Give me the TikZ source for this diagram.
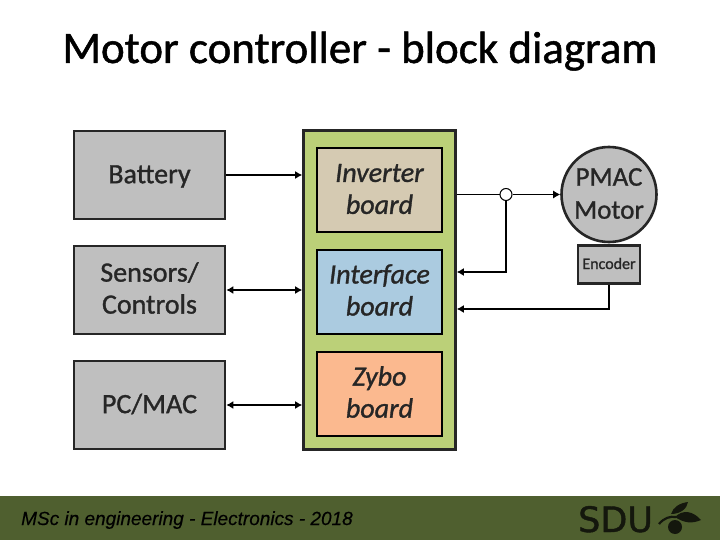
\documentclass[tikz,border=0pt]{standalone}
\usepackage{fontspec}
\setmainfont{Carlito}
\newfontfamily\heavyfont[FakeBold=1.1]{Carlito}
\newfontfamily\footfont[FakeBold=0.3]{Liberation Sans}
\newfontfamily\logofont[FakeBold=1.2]{DejaVu Sans}
\usetikzlibrary{arrows.meta,calc}
\definecolor{blockgray}{HTML}{BFBFBF}
\definecolor{edgegray}{HTML}{262626}
\definecolor{boardgreen}{HTML}{BBD078}
\definecolor{boardtan}{HTML}{D5CAB2}
\definecolor{boardblue}{HTML}{ABCBE0}
\definecolor{boardorange}{HTML}{FBB98F}
\definecolor{footgreen}{HTML}{4F5F2F}
\definecolor{logodark}{HTML}{14170D}
% move a line of text up or down without changing its box
\newcommand{\nudge}[2]{\raisebox{#1}[\height][\depth]{#2}}
\tikzset{
  block/.style={draw=edgegray,line width=2.6pt,fill=blockgray,minimum width=151pt,minimum height=88pt,inner sep=0pt,align=center,font=\heavyfont\fontsize{28}{32}\selectfont,text=black!85},
  board/.style={block,minimum width=125pt,minimum height=84pt,draw=black,font=\heavyfont\fontsize{28}{32}\selectfont\itshape},
  link/.style={draw=black,line width=1.5pt},
  arr/.style={link,-{Latex[length=7pt,width=8pt]}},
  dblarr/.style={link,{Latex[length=7pt,width=8pt]}-{Latex[length=7pt,width=8pt]}}
}
\begin{document}
\begin{tikzpicture}[x=1pt,y=-1pt]
  \useasboundingbox (0,0) rectangle (720,540);
  \fill[white] (0,0) rectangle (720,540);

  \node[anchor=base,inner sep=0pt,font=\heavyfont\fontsize{45}{45}\selectfont,text=black] (title) at (360,63) {Motor controller - block diagram};

  \node[block] (battery) at (149.5,175) {\nudge{-1.5pt}{Battery}};
  \node[block] (sensors) at (149.5,290) {\nudge{2pt}{Sensors/}\\\nudge{2pt}{Controls}};
  \node[block] (pcmac) at (149.5,405) {\nudge{1pt}{PC/MAC}};

  \node[draw=edgegray,line width=2.6pt,fill=boardgreen,minimum width=152pt,minimum height=319pt,inner sep=0pt] (green) at (379.5,290) {};
  \node[board,fill=boardtan] (inverter) at (379.5,190) {\nudge{1pt}{Inverter}\\\nudge{1pt}{board}};
  \node[board,fill=boardblue] (interface) at (379.5,292) {\nudge{2pt}{Interface}\\\nudge{2pt}{board}};
  \node[board,fill=boardorange] (zybo) at (379.5,394) {\nudge{2pt}{Zybo}\\\nudge{2pt}{board}};

  \node[circle,draw=edgegray,line width=2.6pt,fill=blockgray,minimum size=95pt,inner sep=0pt,align=center,font=\heavyfont\fontsize{27}{33}\selectfont,text=black!85] (motor) at (609,194.5) {\nudge{1pt}{PMAC}\\\nudge{1pt}{Motor}};
  \node[block,minimum width=62pt,minimum height=38pt,font=\heavyfont\fontsize{16}{18}\selectfont] (encoder) at (609,264.5) {\nudge{1pt}{Encoder}};
  \node[circle,draw=black,line width=1pt,fill=white,minimum size=12pt,inner sep=0pt] (sense) at (506,194.5) {};

  \draw[arr] (battery.east) -- (battery.east -| green.west);
  \draw[dblarr] (sensors.east) -- (sensors.east -| green.west);
  \draw[dblarr] (pcmac.east) -- (pcmac.east -| green.west);

  \draw[arr,line width=1pt] (green.east |- sense) -- (sense) -- (motor.west);
  \draw[arr] (sense.south) |- (green.east |- 0,272);
  \draw[arr] (encoder.south) |- (green.east |- 0,309);

  % footer
  \fill[footgreen] (0,496) rectangle (720,540);
  \node[anchor=base west,inner sep=0pt,font=\footfont\itshape\fontsize{19}{21}\selectfont,text=black] (footer) at (21,525) {MSc in engineering - Electronics - 2018};
  \node[anchor=base west,inner sep=0pt,font=\logofont\fontsize{35}{35}\selectfont,text=logodark] (sdu) at (578,532) {SDU};

  % logo
  \fill[logodark] (675,527) circle (7);
  \draw[logodark,line width=2.2pt] (659,524) .. controls (664,518) and (670,516) .. (676,517);
  \fill[logodark] (675,517) .. controls (683,509) and (693,511) .. (701,520) .. controls (692,524) and (684,523) .. (675,517) -- cycle;
  \fill[logodark] (671,514) .. controls (673,507) and (680,503) .. (688,502) .. controls (687,509) and (680,514) .. (671,514) -- cycle;
\end{tikzpicture}
\end{document}
